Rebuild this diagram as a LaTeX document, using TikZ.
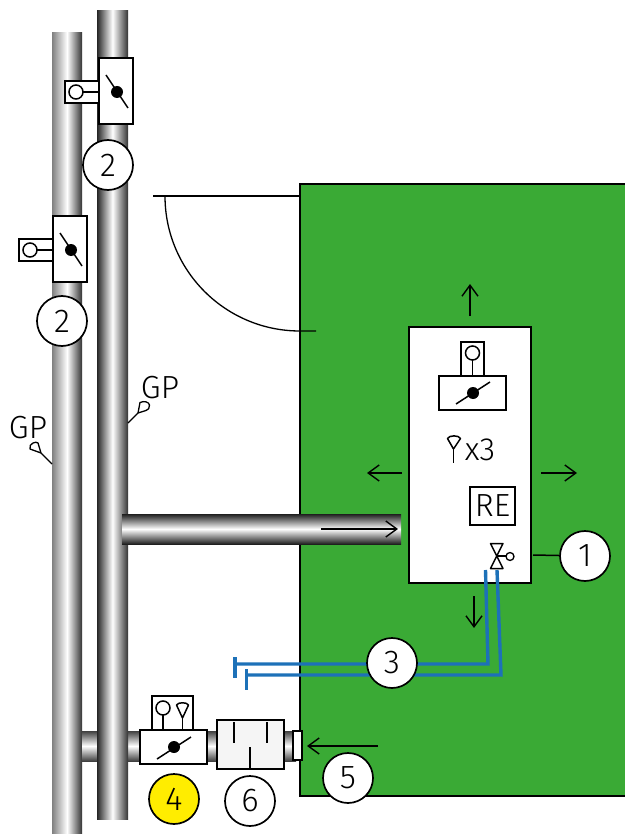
\documentclass[tikz,border=0pt]{standalone}
\usepackage{fontspec}
\setmainfont{Fira Sans Light}
\usetikzlibrary{arrows.meta}
\definecolor{roomgreen}{HTML}{3AAA35}
\definecolor{pipeblue}{HTML}{1D71B8}
\definecolor{markyellow}{HTML}{FFED00}
\tikzset{
  vpipe/.style={left color=black!85,right color=black!80,middle color=white},
  vpipelight/.style={left color=black!50,right color=black!80,middle color=white},
  hpipe/.style={top color=black!75,bottom color=black!75,middle color=white},
  hpipedark/.style={top color=black!88,bottom color=black!88,middle color=white},
  box/.style={draw=black,line width=1.7pt,fill=white},
  wire/.style={draw=black,line width=1.5pt},
  thin wire/.style={draw=black,line width=1.3pt},
  flow/.style={draw=black,line width=1.4pt,-{Straight Barb[length=11pt,width=16pt,line width=1.4pt]}},
  numcircle/.style={circle,draw=black,line width=1.7pt,fill=white,minimum size=50pt,inner sep=0pt,font=\fontsize{33}{33}\selectfont},
  label/.style={inner sep=0pt,font=\fontsize{32}{32}\selectfont},
  bluepipe/.style={draw=pipeblue,line width=3.4pt},
  disc/.style={fill=black,circle,inner sep=0pt,minimum size=12pt},
  acth/.style={circle,draw=black,line width=1.5pt,fill=white,minimum size=14pt,inner sep=0pt},
}
\begin{document}
\begin{tikzpicture}[x=1pt,y=-1pt]
\useasboundingbox (0,0) rectangle (624,834);
% room
\path[draw=black,line width=2.2pt,fill=roomgreen] (625,184) -- (300,184) -- (300,796) -- (625,796);
% door
\draw[thin wire] (153,196) -- (300,196);
\draw[thin wire] (165,196) .. controls (165,270.6) and (225.4,331) .. (300,331) -- (316,331);
% pipes
\shade[vpipelight] (52,33) rectangle (82,834);
\shade[hpipe] (82,731) rectangle (97,761);
\shade[hpipe] (128,731) rectangle (296,761);
\shade[vpipe] (97,11) rectangle (128,819);
\shade[hpipedark] (122,514) rectangle (401,544);
% AHU box
\path[box] (409,327) rectangle (531,583);
% upper damper right
\path[box] (65,81) rectangle (99,103);
\draw[wire] (83,92) -- (99,92);
\node[acth] (act1) at (76,92) {};
\path[box] (99,58) rectangle (133,124);
\draw[wire] (106,75) -- (128,108);
\node[disc] (d1) at (117,92) {};
% damper left
\path[box] (19,239) rectangle (53,261);
\draw[wire] (37,250) -- (53,250);
\node[acth] (act2) at (30,250) {};
\path[box] (53,216) rectangle (87,282);
\draw[wire] (60,233) -- (82,266);
\node[disc] (d2) at (71,250) {};
% damper in AHU
\path[box] (461,342) rectangle (484,376);
\draw[wire] (472.5,360) -- (472.5,376);
\node[acth] (act3) at (472.5,353) {};
\path[box] (439,376) rectangle (506,410);
\draw[wire] (456,404) -- (490,382);
\node[disc] (d3) at (473,393) {};
% bottom damper
\path[box] (152,696) rectangle (193,730);
\node[acth] (act4) at (163,708) {};
\draw[wire] (163,715) -- (163,730);
\draw[wire,fill=white,line join=round] (182.5,718) -- (176.5,705) .. controls (178,702) and (187,702) .. (188.5,705) -- cycle;
\draw[wire] (182.5,718) -- (182.5,730);
\path[box] (140,730) rectangle (207,764);
\draw[wire] (157,759) -- (191,737);
\node[disc] (d4) at (174,747) {};
% filter
\path[box,fill=black!4] (217,720) rectangle (284,769);
\draw[line width=2pt] (234,722) -- (234,743);
\draw[line width=2pt] (267,722) -- (267,743);
\draw[line width=2pt] (250,747) -- (250,769);
% inlet
\path[box] (293,731) rectangle (302,760);
% flow arrows
\coordinate (a1s) at (378,746); \coordinate (a1e) at (307,746);
\draw[flow] (a1s) -- (a1e);
\coordinate (a2s) at (470,316); \coordinate (a2e) at (470,284);
\draw[flow] (a2s) -- (a2e);
\coordinate (a3s) at (402,473); \coordinate (a3e) at (367,473);
\draw[flow] (a3s) -- (a3e);
\coordinate (a4s) at (541,473); \coordinate (a4e) at (577,473);
\draw[flow] (a4s) -- (a4e);
\coordinate (a5s) at (474,596); \coordinate (a5e) at (474,628);
\draw[flow] (a5s) -- (a5e);
\coordinate (a6s) at (321,529); \coordinate (a6e) at (398,529);
\draw[flow] (a6s) -- (a6e);
% x3
\draw[wire,fill=white,line join=round] (453.5,449) -- (447.5,438.5) .. controls (449,435) and (459,435) .. (460.5,438.5) -- cycle;
\draw[wire] (453.5,449) -- (453.5,463);
\node[label] (x3) at (480,450) {x3};
% RE
\node[draw=black,line width=1.7pt,fill=white,minimum width=45pt,minimum height=38pt,inner sep=0pt,font=\fontsize{32}{32}\selectfont] (re) at (492.5,506) {RE};
% valve
\draw[wire,fill=white,line join=round] (490.5,543.5) -- (503,543.5) -- (490.5,568.5) -- (503,568.5) -- cycle;
\draw[wire] (496.7,556) -- (506,556);
\node[circle,draw=black,line width=1.3pt,fill=white,minimum size=8pt,inner sep=0pt] (valvec) at (510,556.5) {};
% blue lines
\path[bluepipe] (485.5,570) -- (488,664) -- (237,664);
\path[bluepipe] (235,657) -- (235,678);
\path[bluepipe] (497,570) -- (501,675) -- (248,675);
\path[bluepipe] (246.5,669) -- (246.5,690);
% GP right
\coordinate (gp1a) at (128,423); \coordinate (gp1b) at (138,413);
\draw[thin wire] (gp1a) -- (gp1b);
\draw[thin wire,fill=white,line join=round] (138,413) -- (140,402.5) .. controls (144,400.5) and (149,402) .. (149.5,405) .. controls (150,408) and (148,410) .. (146,410.5) -- cycle;
\node[label] (gpa) at (160,388) {GP};
% GP left
\coordinate (gp2a) at (52,464); \coordinate (gp2b) at (41,453);
\draw[thin wire] (gp2a) -- (gp2b);
\draw[thin wire,fill=white,line join=round] (41,453) -- (30,449) .. controls (29,446) and (31,444) .. (33,443) .. controls (35,442) and (37,442) .. (38,443) -- cycle;
\node[label] (gpb) at (28,428) {GP};
% numbers
\node[numcircle] (n2a) at (108,165) {2};
\node[numcircle] (n2b) at (62,321) {2};
\node[numcircle] (n1) at (585,556) {1};
\node[numcircle] (n3) at (392,663) {3};
\node[numcircle] (n5) at (348,778) {5};
\node[numcircle,fill=markyellow] (n4) at (174,799) {4};
\node[numcircle] (n6) at (250,801) {6};
\coordinate (ahuedge) at (533,555);
\draw[wire] (ahuedge) -- (n1);
\end{tikzpicture}
\end{document}
